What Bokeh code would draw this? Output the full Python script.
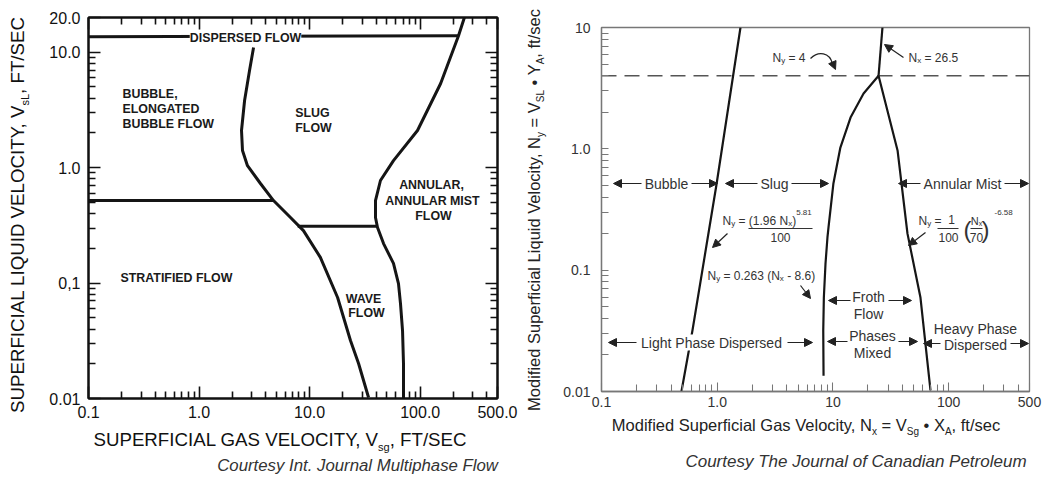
import math
from bokeh.plotting import figure
from bokeh.models import (FixedTicker, CustomJSTickFormatter, LogAxis, Label, Arrow,
                          NormalHead, Range1d, Div, Spacer)
from bokeh.layouts import row, column
from bokeh.embed import file_html
from bokeh.resources import INLINE

FONT = "Liberation Sans"

# ---------------- data: left chart (Mandhane / Taitel-Dukler map) ----------------
L_xticks = [0.1, 1.0, 10.0, 100.0, 500.0]
L_xlabels = ["0.1", "1.0", "10.0", "100.0", "500.0"]
L_yticks = [0.01, 0.1, 1.0, 10.0, 20.0]
L_ylabels = ["0.01", "0,1", "1.0", "10.0", "20.0"]

disp_x = [0.1, 222.0]
disp_y = [13.6, 13.9]

ann_x = [251, 222, 153, 94.5, 57.3, 43.7, 39.4, 39.4, 41.1, 46.6, 57.3, 63.6, 66.3, 69.2, 70.6, 70.6]
ann_y = [20, 13.9, 5.36, 2.10, 1.15, 0.774, 0.519, 0.370, 0.303, 0.220, 0.148, 0.099, 0.0666, 0.0388, 0.0201, 0.01]

slug_x = [3.11, 2.86, 2.58, 2.42, 2.47, 2.74, 3.59, 4.71, 6.71, 8.79, 12.5, 17.9, 23.4, 27.7, 34.1]
slug_y = [11.0, 6.95, 3.82, 2.10, 1.41, 1.04, 0.729, 0.519, 0.370, 0.285, 0.167, 0.0750, 0.0318, 0.0201, 0.0102]

strat_x = [0.1, 4.71]
strat_y = [0.52, 0.519]

wave_x = [7.8, 41.1]
wave_y = [0.31, 0.31]

# ---------------- data: right chart (Govier map) ----------------
R_xticks = [0.1, 1.0, 10.0, 100.0, 500.0]
R_xlabels = ["0.1", "1.0", "10", "100", "500"]
R_yticks = [0.01, 0.1, 1.0, 10.0]
R_ylabels = ["0.01", "0.1", "1.0", "10"]

bub_x = [0.491, 0.611, 0.986, 1.589]
bub_y = [0.01, 0.0318, 0.508, 10.0]

froth_x = [8.3, 8.25, 8.35, 8.63, 8.97, 9.16, 10.1, 11.6, 14.2, 18.4, 24.8]
froth_y = [0.0135, 0.0318, 0.0595, 0.1135, 0.186, 0.225, 0.518, 1.025, 1.81, 2.86, 4.0]

nx265_x = [24.8, 26.8]
nx265_y = [4.0, 10.0]

mist_x = [24.8, 36.2, 44.1, 57.1, 69.7]
mist_y = [4.0, 0.969, 0.200, 0.0595, 0.0102]

ny4_x = [0.1, 500.0]
ny4_y = [4.0, 4.0]

# ---------------- helpers ----------------
W = {' ': 278, '!': 278, '(': 333, ')': 333, ',': 278, '-': 333, '.': 278, '/': 278, '=': 584,
     '\u2022': 350}
for d in "0123456789":
    W[d] = 556
W.update({'A': 667, 'B': 667, 'C': 722, 'D': 722, 'E': 667, 'F': 611, 'G': 778, 'H': 722, 'I': 278,
          'J': 500, 'K': 667, 'L': 556, 'M': 833, 'N': 722, 'O': 778, 'P': 667, 'Q': 778, 'R': 722,
          'S': 667, 'T': 611, 'U': 722, 'V': 667, 'W': 944, 'X': 667, 'Y': 667, 'Z': 611,
          'a': 556, 'b': 556, 'c': 500, 'd': 556, 'e': 556, 'f': 278, 'g': 556, 'h': 556, 'i': 222,
          'j': 222, 'k': 500, 'l': 222, 'm': 833, 'n': 556, 'o': 556, 'p': 556, 'q': 556, 'r': 333,
          's': 500, 't': 278, 'u': 556, 'v': 500, 'w': 722, 'x': 500, 'y': 500, 'z': 500})


def tw(s, size):
    return sum(W.get(c, 556) for c in s) * size / 1000.0


def minors(lo, hi):
    out = []
    for e in range(-3, 4):
        for m in range(2, 10):
            v = m * 10 ** e
            if lo < v < hi:
                out.append(v)
    return out


# page-pixel -> data conversion (the frames sit at fixed page positions)
def cx1(px):
    return 10 ** (-1 + (px - 88) * math.log10(5000) / 409.0)


def cy1(py):
    return 10 ** (-2 + (398 - py) * math.log10(2000) / 381.0)


def cx2(px):
    return 10 ** (-1 + (px - 601) * math.log10(5000) / 428.0)


def cy2(py):
    return 10 ** (-2 + (391 - py) * 3.0 / 364.0)


def lab(p, cx, cy, x, y, text, size, align="left", style="normal", color="#222", bg=None):
    kw = {}
    if bg is not None:
        kw["background_fill_color"] = bg
    p.add_layout(Label(x=cx(x), y=cy(y), text=text, text_font=FONT, text_font_size=f"{size}px",
                       text_font_style=style, text_color=color, text_align=align,
                       text_baseline="middle", **kw))


def rich(p, cx, cy, x0, y0, segs, align="left", color="#222"):
    total = sum(tw(t, s) for t, s, d in segs)
    pos = {"left": 0.0, "center": -total / 2.0, "right": -total}[align]
    for t, s, d in segs:
        lead = len(t) - len(t.lstrip(" "))
        core = t.strip(" ")
        start = pos + tw(" " * lead, s)
        if core:
            lab(p, cx, cy, x0 + start, y0 + d, core, s, "left", "normal", color)
        pos += tw(t, s)


def arrow(p, cx, cy, xs, ys, xe, ye, color="#222", head=8, width=1.2):
    p.add_layout(Arrow(end=NormalHead(size=head, fill_color=color, line_color=color, line_width=1),
                       x_start=cx(xs), y_start=cy(ys), x_end=cx(xe), y_end=cy(ye),
                       line_color=color, line_width=width))


def bar(p, cx, cy, xs, xe, y, color="#333"):
    p.add_layout(Arrow(end=None, start=None, x_start=cx(xs), y_start=cy(y), x_end=cx(xe), y_end=cy(y),
                       line_color=color, line_width=1.1))


def fmt(ticks, labels):
    return CustomJSTickFormatter(args=dict(t=ticks, l=labels), code="""
        for (let i = 0; i < t.length; i++) {
            if (Math.abs(Math.log10(t[i]) - Math.log10(tick)) < 1e-6) { return l[i]; }
        }
        return '';
    """)


def style_axis(ax, ticks, labels, lo, hi, size, standoff, maj, mnr, color, lw, tcolor):
    ax.ticker = FixedTicker(ticks=ticks, minor_ticks=minors(lo, hi))
    ax.formatter = fmt(ticks, labels)
    ax.major_tick_in = maj
    ax.major_tick_out = 0
    ax.minor_tick_in = mnr
    ax.minor_tick_out = 0
    ax.axis_line_color = color
    ax.axis_line_width = lw
    ax.major_tick_line_color = color
    ax.minor_tick_line_color = color
    ax.major_tick_line_width = lw * 0.8
    ax.minor_tick_line_width = lw * 0.8
    ax.major_label_text_font = FONT
    ax.major_label_text_font_size = f"{size}px"
    ax.major_label_text_color = tcolor
    ax.major_label_standoff = standoff
    ax.axis_label = None


def mirror_axis(ticks, lo, hi, maj, mnr, color, lw):
    return LogAxis(ticker=FixedTicker(ticks=ticks, minor_ticks=minors(lo, hi)),
                   formatter=CustomJSTickFormatter(code="return '';"),
                   major_label_text_font_size="0px", major_label_standoff=0,
                   major_tick_in=maj, major_tick_out=0, minor_tick_in=mnr, minor_tick_out=0,
                   axis_line_color=color, axis_line_width=lw,
                   major_tick_line_color=color, minor_tick_line_color=color,
                   major_tick_line_width=lw * 0.8, minor_tick_line_width=lw * 0.8)


def html_text(x, y, html, size, color, anchor="center", rotate=False, italic=False):
    tx = {"center": "-50%", "left": "0", "right": "-100%"}[anchor]
    tr = f"translate({tx},-50%)" + (" rotate(-90deg)" if rotate else "")
    st = "font-style:italic;" if italic else ""
    return (f'<div style="position:absolute;left:{x}px;top:{y}px;transform:{tr};white-space:nowrap;'
            f'line-height:1;font-family:\'{FONT}\';font-size:{size}px;color:{color};{st}">{html}</div>')


def sub(t, size, drop):
    return f'<span style="font-size:{size}px;position:relative;top:{drop}px">{t}</span>'


def text_div(w, h, parts):
    return Div(text="".join(parts), width=w, height=h, margin=0,
               styles={"position": "relative", "overflow": "visible"})


# ---------------- left figure ----------------
p1 = figure(width=490, height=424, x_axis_type="log", y_axis_type="log",
            x_range=Range1d(0.1, 500), y_range=Range1d(0.01, 20),
            output_backend="svg", toolbar_location=None,
            min_border_left=58, min_border_right=23, min_border_top=17, min_border_bottom=26)
p1.grid.visible = False
p1.outline_line_color = "#111"
p1.outline_line_width = 2
style_axis(p1.xaxis[0], L_xticks, L_xlabels, 0.1, 500, 16, 7, 12, 7, "#111", 2, "#111")
style_axis(p1.yaxis[0], L_yticks, L_ylabels, 0.01, 20, 16, 8, 12, 7, "#111", 2, "#111")
p1.add_layout(mirror_axis(L_xticks, 0.1, 500, 12, 7, "#111", 2), "above")
p1.add_layout(mirror_axis(L_yticks, 0.01, 20, 12, 7, "#111", 2), "right")

LC = "#151515"
for xs, ys in [(disp_x, disp_y), (ann_x, ann_y), (slug_x, slug_y), (strat_x, strat_y), (wave_x, wave_y)]:
    p1.line(xs, ys, line_width=3, line_color=LC, line_join="round")

B = 12.4
TC = "#1a1a1a"
lab(p1, cx1, cy1, 245, 37, "DISPERSED FLOW", B, "center", "bold", TC, bg="white")
lab(p1, cx1, cy1, 122, 93, "BUBBLE,", B, "left", "bold", TC)
lab(p1, cx1, cy1, 122, 108, "ELONGATED", B, "left", "bold", TC)
lab(p1, cx1, cy1, 122, 123, "BUBBLE FLOW", B, "left", "bold", TC)
lab(p1, cx1, cy1, 312, 112, "SLUG", B, "center", "bold", TC)
lab(p1, cx1, cy1, 313, 127, "FLOW", B, "center", "bold", TC)
lab(p1, cx1, cy1, 431, 184, "ANNULAR,", B, "center", "bold", TC)
lab(p1, cx1, cy1, 432, 200, "ANNULAR MIST", B, "center", "bold", TC)
lab(p1, cx1, cy1, 433, 215, "FLOW", B, "center", "bold", TC)
lab(p1, cx1, cy1, 120, 277, "STRATIFIED FLOW", B, "left", "bold", TC)
lab(p1, cx1, cy1, 363, 298, "WAVE", B, "center", "bold", TC)
lab(p1, cx1, cy1, 366, 312, "FLOW", B, "center", "bold", TC)

# ---------------- right figure ----------------
p2 = figure(width=494, height=407, x_axis_type="log", y_axis_type="log",
            x_range=Range1d(0.1, 500), y_range=Range1d(0.01, 10),
            output_backend="svg", toolbar_location=None,
            min_border_left=53, min_border_right=13, min_border_top=17, min_border_bottom=26)
p2.grid.visible = False
p2.outline_line_color = "#777"
p2.outline_line_width = 1.3
style_axis(p2.xaxis[0], R_xticks, R_xlabels, 0.1, 500, 14, 5, 9, 7, "#777", 1.3, "#333")
style_axis(p2.yaxis[0], R_yticks, R_ylabels, 0.01, 10, 14, 11, 7, 7, "#777", 1.3, "#333")

RC = "#161616"
p2.line(ny4_x, ny4_y, line_width=1.6, line_color="#555", line_dash="15 8")
for xs, ys in [(bub_x, bub_y), (froth_x, froth_y), (nx265_x, nx265_y), (mist_x, mist_y)]:
    p2.line(xs, ys, line_width=2.2, line_color=RC, line_join="round")

T2 = "#333"
R = 14
lab(p2, cx2, cy2, 666, 183, "Bubble", R, "center", "normal", T2)
arrow(p2, cx2, cy2, 641, 183, 613, 183)
arrow(p2, cx2, cy2, 691, 183, 717, 183)
lab(p2, cx2, cy2, 774, 183, "Slug", R, "center", "normal", T2)
arrow(p2, cx2, cy2, 757, 183, 725, 183)
arrow(p2, cx2, cy2, 791, 183, 828, 183)
lab(p2, cx2, cy2, 962, 183, "Annular Mist", R, "center", "normal", T2)
arrow(p2, cx2, cy2, 920, 183, 898, 183)
arrow(p2, cx2, cy2, 1004, 183, 1028, 183)

lab(p2, cx2, cy2, 868, 296, "Froth", R, "center", "normal", T2)
lab(p2, cx2, cy2, 868, 313, "Flow", R, "center", "normal", T2)
arrow(p2, cx2, cy2, 850, 300, 828, 300)
arrow(p2, cx2, cy2, 888, 300, 911, 300)

lab(p2, cx2, cy2, 711, 342, "Light Phase Dispersed", R, "center", "normal", T2, bg="white")
arrow(p2, cx2, cy2, 636, 342, 608, 342)
arrow(p2, cx2, cy2, 787, 342, 812, 342)
lab(p2, cx2, cy2, 872, 335, "Phases", R, "center", "normal", T2)
lab(p2, cx2, cy2, 872, 352, "Mixed", R, "center", "normal", T2)
arrow(p2, cx2, cy2, 847, 341, 827, 341)
arrow(p2, cx2, cy2, 898, 341, 917, 341)
lab(p2, cx2, cy2, 975, 328, "Heavy Phase", R, "center", "normal", T2)
lab(p2, cx2, cy2, 975, 344, "Dispersed", R, "center", "normal", T2)
arrow(p2, cx2, cy2, 940, 343, 923, 343)
arrow(p2, cx2, cy2, 1010, 343, 1028, 343)

F = 12
rich(p2, cx2, cy2, 722, 220, [("N", F, 0), ("y", 8, 3), (" = (1.96 N", F, 0), ("x", 8, 3), (")", F, 0),
                              ("5.81", 8, -8)], color=T2)
bar(p2, cx2, cy2, 748, 812, 228)
lab(p2, cx2, cy2, 780, 237, "100", F, "center", "normal", T2)
arrow(p2, cx2, cy2, 727, 233, 712, 247)

rich(p2, cx2, cy2, 918, 220, [("N", F, 0), ("y", 8, 3), (" =", F, 0)], color=T2)
lab(p2, cx2, cy2, 951, 219, "1", F, "center", "normal", T2)
bar(p2, cx2, cy2, 937, 958, 228)
lab(p2, cx2, cy2, 948, 237, "100", F, "center", "normal", T2)
lab(p2, cx2, cy2, 967, 229, "(", 24, "center", "normal", T2)
lab(p2, cx2, cy2, 985, 229, ")", 24, "center", "normal", T2)
rich(p2, cx2, cy2, 976, 220, [("N", 11, 0), ("x", 7, 3)], align="center", color=T2)
bar(p2, cx2, cy2, 970, 982, 228)
lab(p2, cx2, cy2, 976, 237, "70", F, "center", "normal", T2)
lab(p2, cx2, cy2, 994, 212, "-6.58", 8, "left", "normal", T2)
arrow(p2, cx2, cy2, 925, 232, 908, 245)

rich(p2, cx2, cy2, 707, 275, [("N", F, 0), ("y", 8, 3), (" = 0.263 (N", F, 0), ("x", 8, 3),
                              (" - 8.6)", F, 0)], color=T2)
arrow(p2, cx2, cy2, 800, 285, 810, 298)

rich(p2, cx2, cy2, 772, 57, [("N", F, 0), ("y", 8, 3), (" = 4", F, 0)], color=T2)
p2.bezier(x0=[cx2(810)], y0=[cy2(58)], x1=[cx2(832)], y1=[cy2(63)],
          cx0=[cx2(818)], cy0=[cy2(50)], cx1=[cx2(829)], cy1=[cy2(52)],
          line_color="#222", line_width=1.2)
arrow(p2, cx2, cy2, 832, 62, 835, 69)

rich(p2, cx2, cy2, 908, 57, [("N", F, 0), ("x", 8, 3), (" = 26.5", F, 0)], color=T2)
arrow(p2, cx2, cy2, 903, 57, 884, 44)

# ---------------- axis titles and captions (HTML, page-positioned) ----------------
ylab1 = text_div(30, 424, [html_text(18, 215, "SUPERFICIAL LIQUID VELOCITY, V" + sub("sL", 11, 5) + ", FT/SEC",
                                     18.7, "#111", rotate=True)])
xlab1 = text_div(520, 55, [
    html_text(280, 16, "SUPERFICIAL GAS VELOCITY, V" + sub("sg", 11, 5) + ", FT/SEC", 18.7, "#111"),
    html_text(498, 42, "Courtesy Int. Journal Multiphase Flow", 16.8, "#333", anchor="right", italic=True),
])
ylab2 = text_div(28, 407, [html_text(14, 200, "Modified Superficial Liquid Velocity, N" + sub("y", 10, 4) +
                                     " = V" + sub("SL", 10, 4) + " \u2022 Y" + sub("A", 10, 4) + ", ft/sec",
                                     16.5, "#222", rotate=True)])
xlab2 = text_div(522, 62, [
    html_text(286, 8, "Modified Superficial Gas Velocity, N" + sub("x", 10, 4) + " = V" + sub("Sg", 10, 4) +
              " \u2022 X" + sub("A", 10, 4) + ", ft/sec", 16.5, "#222"),
    html_text(336, 44, "Courtesy The Journal of Canadian Petroleum", 17, "#333", italic=True),
])

block1 = column(row(ylab1, p1), xlab1)
block2 = column(Spacer(width=522, height=10, margin=0), row(ylab2, p2), xlab2)
layout = row(block1, block2)
open("out.html", "w").write(file_html(layout, INLINE))
